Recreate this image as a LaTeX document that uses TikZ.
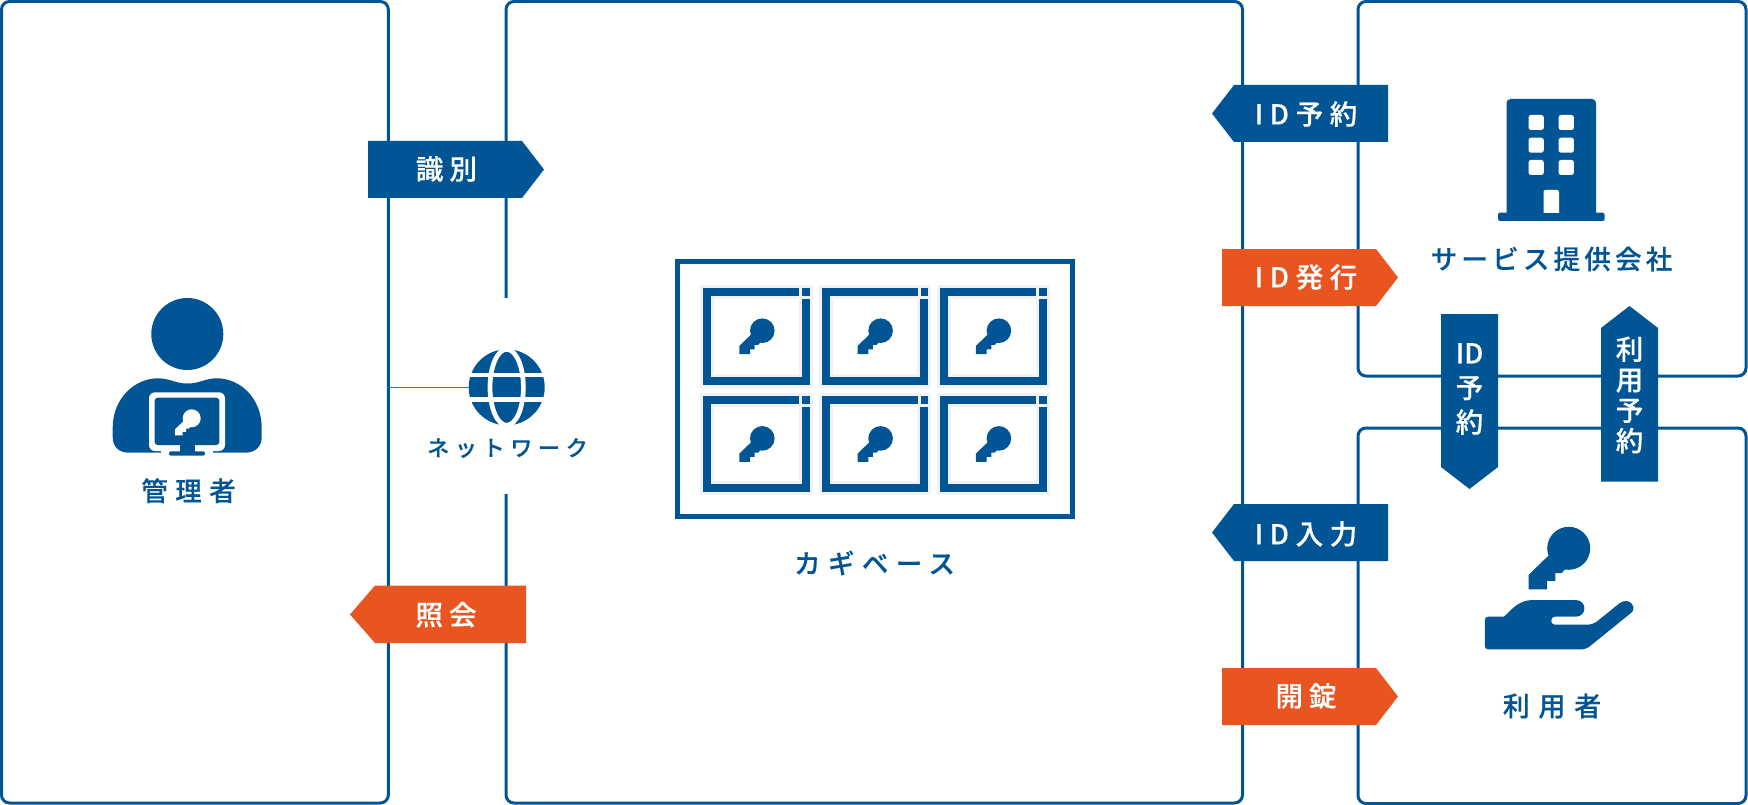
\documentclass[tikz,border=0pt]{standalone}
\usepackage{fontspec}
\newfontfamily\jp[FakeBold=0.35]{Noto Sans CJK JP Medium}
\definecolor{kbblue}{HTML}{025595}
\definecolor{kborange}{HTML}{E95520}
\definecolor{kbhalo}{HTML}{F1F2F5}
\newcommand\keyicon[4]{%
  \begin{scope}[shift={(#1,#2)},x=#3pt,y=-#3pt]
    \fill[#4] (0,0) circle[radius=1];
    \fill[#4] (-0.94,0.34) -- (-1.87,1.24) -- (-1.87,1.91) -- (-1.0,1.91) -- (-1.0,1.51) -- (-0.62,1.51) -- (-0.62,1.16) -- (-0.33,1.16) -- (-0.17,0.97) -- (0.3,0.3) -- cycle;
  \end{scope}}
\tikzset{
  frame/.style={draw=kbblue,line width=3pt,rounded corners=8pt,fill=white,inner sep=0pt,outer sep=0pt,anchor=north west},
  lab/.style={text=kbblue,inner sep=0pt,font=\jp\fontsize{#1}{#1}\selectfont\addfontfeature{LetterSpace=28}},
  lab/.default=26,
  tag/.style={text=white,inner sep=0pt,font=\jp\fontsize{27.5}{27.5}\selectfont\addfontfeature{LetterSpace=22}},
  vtag/.style={text=white,inner sep=0pt,align=center,font=\jp\fontsize{27.5}{#1}\selectfont},
  blue/.style={fill=kbblue},
  orange/.style={fill=kborange}
}
\begin{document}
\begin{tikzpicture}[x=1pt,y=-1pt]
\useasboundingbox (0,0) rectangle (1748,805);
\fill[white] (0,0) rectangle (1748,805);
% frames
\node[frame,minimum width=386.8pt,minimum height=801.5pt] (admin) at (1.5,1.5) {};
\node[frame,minimum width=736.5pt,minimum height=801.5pt] (base) at (506,1.5) {};
\node[frame,minimum width=388pt,minimum height=374.5pt] (provider) at (1358,1.5) {};
\node[frame,minimum width=388pt,minimum height=375.5pt] (user) at (1358,428) {};
% gap in the base frame
\fill[white] (500,298) rectangle (512,494);
% network
\node[circle,fill=kbblue,minimum size=76pt,inner sep=0pt,outer sep=0pt] (globe) at (506.7,387.3) {};
\draw[kbblue!80,line width=1pt] (admin.east |- globe) -- (globe.west);
\begin{scope}
  \clip (506.7,387.3) circle[radius=38.5];
  \draw[white,line width=4.7pt] (506.7,387.3) ellipse[x radius=16.7,y radius=38];
  \draw[white,line width=4.7pt] (460,375) -- (550,375);
  \draw[white,line width=4.7pt] (460,399.7) -- (550,399.7);
\end{scope}
\node[lab=22] (net) at (507.5,448) {\addfontfeature{LetterSpace=26}ネットワーク};
% person
\fill[kbblue] (187.3,334) circle[radius=36];
\fill[kbblue] (112.7,437) -- (112.7,428) .. controls (112.7,398) and (135,378.3) .. (158,378.3) .. controls (170,378.3) and (175,383.5) .. (187.3,383.5) .. controls (200,383.5) and (205,378.3) .. (217,378.3) .. controls (240,378.3) and (261.7,398) .. (261.7,428) -- (261.7,437) .. controls (261.7,447) and (255,452.7) .. (245,452.7) -- (129,452.7) .. controls (119,452.7) and (112.7,447) .. (112.7,437) -- cycle;
\fill[white,rounded corners=6pt] (149,392.3) rectangle (225,451);
\fill[white] (161,445) rectangle (213,453.5);
\fill[kbblue,rounded corners=3pt] (154.7,397.7) rectangle (219.3,445);
\fill[kbblue] (180,444) rectangle (195,453);
\fill[kbblue,rounded corners=2pt] (169,451.3) rectangle (205,455.7);
\keyicon{191.7}{418.3}{9}{white}
\node[lab=26.5] (adminlab) at (188.5,490.7) {管理者};
% key cabinet
\draw[kbblue,line width=5pt] (677.7,261.3) rectangle (1072.3,516);
\foreach \i in {0,1,2}{\foreach \j in {0,1}{
  \begin{scope}[shift={({703.3+118.3*\i},{288.3+107.7*\j})}]
    \fill[kbhalo] (-3,-3) rectangle (109.7,99.4);
    \fill[kbblue] (0,0) rectangle (106.7,96.4);
    \fill[kbhalo] (8,8) rectangle (98.7,88.4);
    \fill[white] (11,11) rectangle (95.7,85.4);
    \fill[kbhalo] (96,-0.3) rectangle (99,8);
    \fill[kbhalo] (96,7.7) rectangle (106.9,10.7);
    \keyicon{59}{42.4}{12.3}{kbblue}
  \end{scope}
}}
\node[lab=26.5] (baselab) at (874.5,563) {\addfontfeature{LetterSpace=28}カギベース};
% building
\fill[kbblue,rounded corners=4pt] (1506.5,225) -- (1506.5,99) -- (1596,99) -- (1596,225) -- cycle;
\fill[white] (1500,221) rectangle (1602,228);
\fill[kbblue,rounded corners=1.5pt] (1498,212.7) rectangle (1604.5,221);
\foreach \wx in {1528.5,1558.6}{\foreach \wy in {115,137.7,160}{
  \fill[white,rounded corners=2.5pt] (\wx,\wy) rectangle ++(15.3,15);
}}
\fill[white,rounded corners=2pt] (1543.5,216) -- (1543.5,190) -- (1559,190) -- (1559,216) -- cycle;
\fill[kbblue] (1540,213) rectangle (1562,218);
\node[lab=26.5] (provlab) at (1551.5,259) {\addfontfeature{LetterSpace=16}サービス提供会社};
% hand and key
\keyicon{1568.7}{548.3}{21.5}{kbblue}
\fill[kbblue] (1484.8,620) .. controls (1484.8,618) and (1486,616.7) .. (1488.3,616.7) -- (1504,616.7) .. controls (1512,609) and (1519,600) .. (1533,600) -- (1575.7,600) .. controls (1581,600) and (1584.4,604) .. (1584.4,608.3) .. controls (1584.4,613) and (1581,616.7) .. (1575.7,616.7) -- (1554.7,616.7) .. controls (1552.5,616.7) and (1551.2,618.5) .. (1551.2,620.7) .. controls (1551.2,623) and (1552.5,624.7) .. (1554.7,624.7) -- (1586.2,624.7) .. controls (1591,624.7) and (1594,623.5) .. (1596.7,621.7) -- (1619.4,603.3) .. controls (1624,600) and (1629,600.5) .. (1631.5,603.5) .. controls (1634.5,607) and (1634,611) .. (1630.6,613.3) -- (1591.4,645) .. controls (1588,648) and (1585,649.3) .. (1582.7,649.3) -- (1488.3,649.3) .. controls (1486,649.3) and (1484.8,648) .. (1484.8,646) -- cycle;
\node[lab=27] (userlab) at (1552,706) {\addfontfeature{LetterSpace=32}利用者};
% horizontal tags
\fill[blue] (368,141) -- (522,141) -- (544,169.5) -- (522,198) -- (368,198) -- cycle;
\node[tag] (t1) at (446.5,169) {識別};
\fill[orange] (526,585.5) -- (375,585.5) -- (350,614.5) -- (375,643) -- (526,643) -- cycle;
\node[tag] (t2) at (446,614.7) {照会};
\fill[blue] (1388,85) -- (1234,85) -- (1212,113.5) -- (1234,142) -- (1388,142) -- cycle;
\node[tag] (t3) at (1306,114) {\addfontfeature{LetterSpace=24}ID予約};
\fill[orange] (1222,249) -- (1376,249) -- (1398,277.5) -- (1376,306) -- (1222,306) -- cycle;
\node[tag] (t4) at (1306,277) {\addfontfeature{LetterSpace=24}ID発行};
\fill[blue] (1388,504) -- (1234,504) -- (1212,532.5) -- (1234,561) -- (1388,561) -- cycle;
\node[tag] (t5) at (1306,534) {\addfontfeature{LetterSpace=24}ID入力};
\fill[orange] (1222,668) -- (1376,668) -- (1398,696.5) -- (1376,725) -- (1222,725) -- cycle;
\node[tag] (t6) at (1306,696) {開錠};
% vertical tags
\fill[blue] (1441,314) -- (1498,314) -- (1498,467) -- (1469.5,489) -- (1441,467) -- cycle;
\node[vtag=34.5] (t7) at (1469.5,389) {ID\\予\\約};
\fill[blue] (1601,328) -- (1629.5,306) -- (1658,328) -- (1658,481.7) -- (1601,481.7) -- cycle;
\node[vtag=30.5] (t8) at (1629.5,395) {利\\用\\予\\約};
\end{tikzpicture}
\end{document}
